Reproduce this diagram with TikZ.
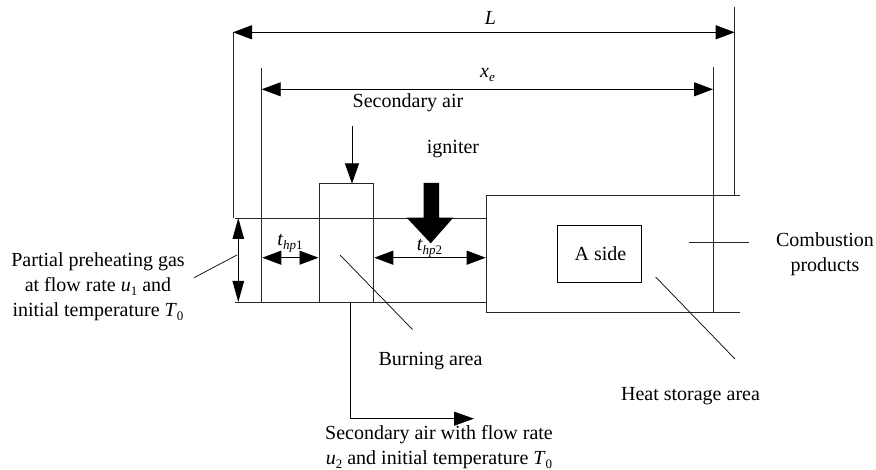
\documentclass[tikz,border=0pt]{standalone}
\usepackage{fontspec}
\setmainfont{Liberation Serif}
\usetikzlibrary{arrows.meta}
\newcommand{\subs}[1]{\raisebox{-3.5pt}{\fontsize{13pt}{14pt}\selectfont #1}}
\tikzset{
  wall/.style={draw=black!85,line width=0.9pt},
  leader/.style={draw=black,line width=0.7pt},
  dim/.style={draw=black,line width=0.9pt,{Triangle[length=19pt,width=14pt]}-{Triangle[length=19pt,width=14pt]}},
  dimv/.style={draw=black,line width=0.9pt,{Triangle[length=21pt,width=11.5pt]}-{Triangle[length=21pt,width=11.5pt]}},
  flow/.style={draw=black,line width=0.9pt,-{Triangle[length=20pt,width=14pt]}},
  lbl/.style={inner sep=0pt,anchor=base,font=\fontsize{20pt}{25pt}\selectfont,align=center},
}
\begin{document}
\begin{tikzpicture}[x=1pt,y=-1pt]
\useasboundingbox (0,0) rectangle (876,470);
% named points
\coordinate (Ltop) at (233,32.3);
\coordinate (Rtop) at (734.7,32.3);
\coordinate (LL) at (233,217.7);
\coordinate (RLtop) at (734.7,7);
\coordinate (RLbot) at (734.7,195.7);
\coordinate (xl) at (261.7,89.3);
\coordinate (xr) at (713,89.3);
\coordinate (xltop) at (261.7,68);
\coordinate (xlbot) at (261.7,302);
\coordinate (xrtop) at (713,66.7);
\coordinate (xrbot) at (713,312);
\coordinate (chTL) at (235,218);
\coordinate (chTR) at (486,218);
\coordinate (chBL) at (235,302);
\coordinate (chBR) at (486,302);
\coordinate (inT) at (238.3,218);
\coordinate (inB) at (238.3,302);
\coordinate (b1T) at (319,183.5);
\coordinate (b1B) at (319,302);
\coordinate (b2T) at (373.8,183.5);
\coordinate (b2B) at (373.8,302);
\coordinate (heatTL) at (486,195.7);
\coordinate (heatBL) at (486,312);
\coordinate (heatTR) at (740,195.7);
\coordinate (heatBR) at (740,312);
\coordinate (airS) at (352,126);
\coordinate (airE) at (352,183.5);
\coordinate (outS) at (350,302);
\coordinate (outC) at (350,418.7);
\coordinate (outE) at (474,418.7);
\coordinate (t1L) at (262.3,257.7);
\coordinate (t1R) at (318.5,257.7);
\coordinate (t2L) at (374.3,257.7);
\coordinate (t2R) at (485.7,257.7);
% walls
\draw[wall] (LL) -- (Ltop);
\draw[wall] (RLtop) -- (RLbot);
\draw[wall] (xltop) -- (xlbot);
\draw[wall] (xrtop) -- (xrbot);
\draw[wall] (chTL) -- (chTR);
\draw[wall] (chBL) -- (chBR);
\draw[wall] (b1B) -- (b1T) -- (b2T) -- (b2B);
\draw[wall] (heatTR) -- (heatTL) -- (heatBL) -- (heatBR);
% dimensions
\draw[dim] (Ltop) -- (Rtop);
\draw[dim] (xl) -- (xr);
\draw[dimv] (inT) -- (inB);
\draw[dim] (t1L) -- (t1R);
\draw[dim] (t2L) -- (t2R);
% flows
\draw[flow] (airS) -- (airE);
\draw[flow] (outS) -- (outC) -- (outE);
% igniter arrow
\coordinate (ig1) at (423.7,183);
\coordinate (ig2) at (439,183);
\coordinate (ig3) at (439,217.7);
\coordinate (ig4) at (453.3,217.7);
\coordinate (ig5) at (430.7,243.3);
\coordinate (ig6) at (406.7,217.7);
\coordinate (ig7) at (423.7,217.7);
\fill[black] (ig1) -- (ig2) -- (ig3) -- (ig4) -- (ig5) -- (ig6) -- (ig7) -- cycle;
% A side
\node[draw=black,line width=0.9pt,minimum width=84pt,minimum height=57pt,inner sep=0pt] (asidebox) at (599.7,253.8) {};
\node[lbl] (aside) at (600.5,261) {A side};
% leaders
\coordinate (l1a) at (237,255); \coordinate (l1b) at (194,277.7);
\coordinate (l2a) at (340,255); \coordinate (l2b) at (412.5,329.5);
\coordinate (l3a) at (655.7,277); \coordinate (l3b) at (735,359);
\coordinate (l4a) at (689,242.7); \coordinate (l4b) at (749,242.7);
\draw[leader] (l1a) -- (l1b);
\draw[leader] (l2a) -- (l2b);
\draw[leader] (l3a) -- (l3b);
\draw[wall] (l4a) -- (l4b);
% labels
\node[lbl] (tL) at (490.5,25) {\textit{L}};
\node[lbl] (txe) at (487.5,78) {\textit{x}\subs{\textit{e}}};
\node[lbl] (tsec) at (408,108) {Secondary air};
\node[lbl] (tign) at (453,154) {igniter};
\node[lbl] (tt1) at (290,246) {\textit{t}\subs{\textit{hp}1}};
\node[lbl] (tt2) at (429.5,251) {\textit{t}\subs{\textit{hp}2}};
\node[lbl] (tcomb) at (825,272) {Combustion\\products};
\node[lbl] (tburn) at (430.5,366) {Burning area};
\node[lbl] (theat) at (690.5,401) {Heat storage area};
\node[lbl] (tpart) at (98,317) {Partial preheating gas\\at flow rate \textit{u}\subs{1} and\\initial temperature \textit{T}\subs{0}};
\node[lbl] (tsec2) at (439,464.5) {Secondary air with flow rate\\\textit{u}\subs{2} and initial temperature \textit{T}\subs{0}};
\end{tikzpicture}
\end{document}
